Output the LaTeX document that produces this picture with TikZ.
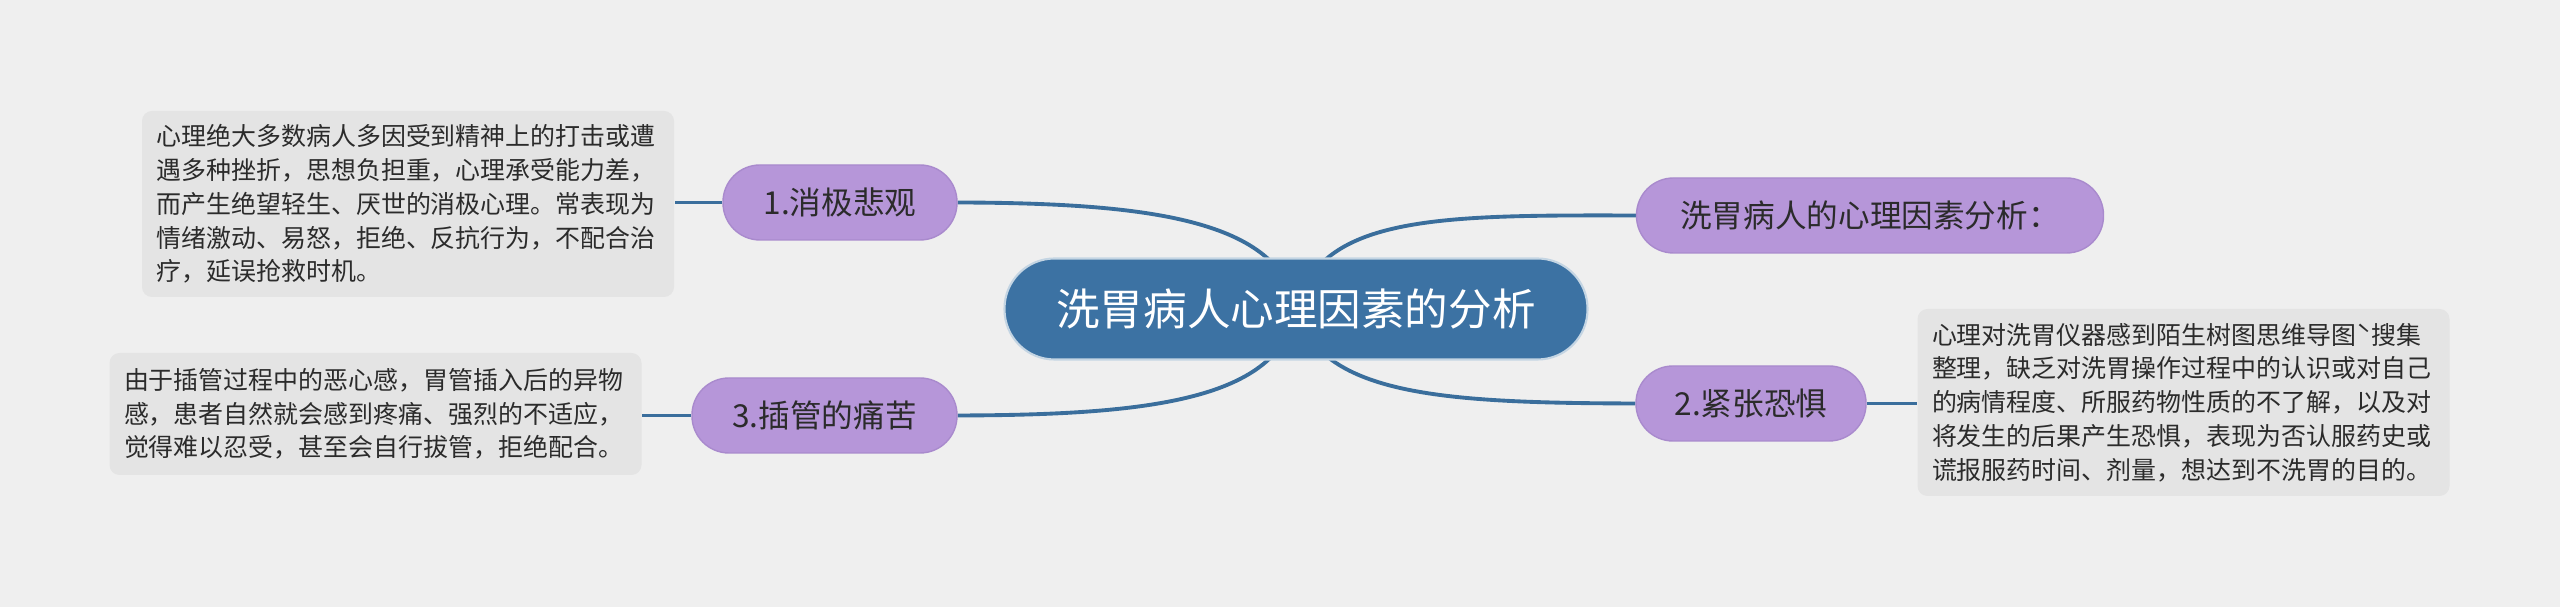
\documentclass[tikz,border=0pt]{standalone}
\usepackage{fontspec}
\usepackage{xcolor}
\usetikzlibrary{backgrounds}
\newfontfamily\cjk{Noto Sans CJK SC}
\definecolor{bgc}{HTML}{EFEFEF}
\definecolor{rootc}{HTML}{3C72A3}
\definecolor{topicc}{HTML}{B696D9}
\definecolor{topicl}{HTML}{A98ACD}
\definecolor{notec}{HTML}{E4E4E4}
\definecolor{linkc}{HTML}{3A6E9C}
\definecolor{txtc}{HTML}{2B2B2B}

\begin{document}
\begin{tikzpicture}[
	root/.style={fill=rootc, draw=white!70!rootc, line width=0.6pt, rounded corners=0.5cm, minimum width=5.83cm, minimum height=1.01cm, text=white, font=\cjk\fontsize{12.4pt}{14pt}\selectfont},
	topic/.style={fill=topicc, draw=topicl, line width=0.4pt, rounded corners=0.37cm, minimum height=0.75cm, text=txtc, font=\cjk\fontsize{9pt}{11pt}\selectfont},
	note/.style={fill=notec, rounded corners=0.1cm, align=left, text width=5.03cm, inner xsep=0.145cm, text=txtc, font=\cjk\fontsize{7.1pt}{9.6pt}\selectfont},
	link/.style={draw=linkc, line width=1.1pt}]
	\useasboundingbox (0, 0) rectangle (25.6, 6.07);
	\begin{scope}[on background layer]
		\fill[bgc] (0, 0) rectangle (25.6, 6.07);
	\end{scope}
	% Nodes, curves and short links:
	\node[root] (root) at (12.96, 2.98){洗胃病人心理因素的分析};
	\node[topic, minimum width=4.67cm] (intro) at (18.70, 3.915){洗胃病人的心理因素分析：};
	\node[topic, minimum width=2.30cm] (fear) at (17.51, 2.035){2.紧张恐惧};
	\node[topic, minimum width=2.34cm] (neg) at (8.40, 4.045){1.消极悲观};
	\node[topic, minimum width=2.65cm] (pain) at (8.245, 1.915){3.插管的痛苦};
	\node[note, minimum height=1.86cm] (negtext) at (4.08, 4.03){心理绝大多数病人多因受到精神上的打击或遭\\遇多种挫折，思想负担重，心理承受能力差，\\而产生绝望轻生、厌世的消极心理。常表现为\\情绪激动、易怒，拒绝、反抗行为，不配合治\\疗，延误抢救时机。};
	\node[note, minimum height=1.22cm] (paintext) at (3.755, 1.93){由于插管过程中的恶心感，胃管插入后的异物\\感，患者自然就会感到疼痛、强烈的不适应，\\觉得难以忍受，甚至会自行拔管，拒绝配合。};
	\node[note, minimum height=1.87cm] (feartext) at (21.835, 2.045){心理对洗胃仪器感到陌生树图思维导图ˋ搜集\\整理，缺乏对洗胃操作过程中的认识或对自己\\的病情程度、所服药物性质的不了解，以及对\\将发生的后果产生恐惧，表现为否认服药史或\\谎报服药时间、剂量，想达到不洗胃的目的。};
	\begin{scope}[on background layer]
		\draw[link] (root.center) .. controls (12.80, 3.87) and (11.50, 4.04) .. (neg.east);
		\draw[link] (root.center) .. controls (13.20, 3.92) and (14.40, 3.92) .. (intro.west);
		\draw[link] (root.center) .. controls (12.80, 2.07) and (11.50, 1.92) .. (pain.east);
		\draw[link] (root.center) .. controls (13.20, 2.12) and (14.40, 2.04) .. (fear.west);
	\end{scope}
	\draw[link] (neg.west) -- (neg.west -| negtext.east);
	\draw[link] (pain.west) -- (pain.west -| paintext.east);
	\draw[link] (fear.east) -- (fear.east -| feartext.west);
\end{tikzpicture}
\end{document}
